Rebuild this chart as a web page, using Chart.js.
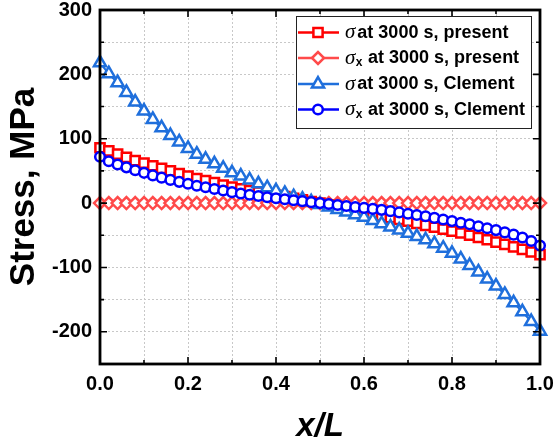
<!DOCTYPE html>
<html>
<head>
<meta charset="utf-8">
<script src="https://cdn.jsdelivr.net/npm/chart.js@4.4.1/dist/chart.umd.min.js"></script>
<style>
  html, body { margin: 0; padding: 0; background: #ffffff; }
  #wrap { width: 553px; height: 443px; position: relative; }
</style>
</head>
<body>
<div id="wrap"><canvas id="c" width="553" height="443"></canvas></div>
<script>
// x/L positions (categories)
const xPositions = [0.00,0.02,0.04,0.06,0.08,0.10,0.12,0.14,0.16,0.18,0.20,0.22,0.24,0.26,0.28,0.30,0.32,0.34,0.36,0.38,0.40,0.42,0.44,0.46,0.48,0.50,0.52,0.54,0.56,0.58,0.60,0.62,0.64,0.66,0.68,0.70,0.72,0.74,0.76,0.78,0.80,0.82,0.84,0.86,0.88,0.90,0.92,0.94,0.96,0.98,1.00];

// sigma at 3000 s, present (red squares)
const sigmaPresent = [86,81,76,71,66,62,58,54,50,46,42,38,35,32,28,25,22,19.5,17,14.5,12,10,7.5,5,2.5,0,-3,-5.8,-8.6,-11.4,-14.2,-17,-19.8,-22.6,-25.4,-28.2,-31.5,-34.5,-37.5,-40.5,-43.5,-46.5,-50,-53.5,-57,-60.5,-64,-68,-72,-76,-80];

// sigma_x at 3000 s, present (light red diamonds)
const sigmaXPresent = [0,0,0,0,0,0,0,0,0,0,0,0,0,0,0,0,0,0,0,0,0,0,0,0,0,0,0,0,0,0,0,0,0,0,0,0,0,0,0,0,0,0,0,0,0,0,0,0,0,0,0];

// sigma at 3000 s, Clement (blue triangles)
const sigmaClement = [218,201,187,172,157,143,130,117,105,95,85,76,68,61,54,47,42,36,30,24,19,15,10,6,2,-2,-6,-10,-14,-18,-22,-27,-32,-37,-42,-47,-52,-57,-63,-70,-78,-87,-97,-107,-118,-129,-142,-155,-169,-184,-199];

// sigma_x at 3000 s, Clement (blue circles)
const sigmaXClement = [72,65,60,55.5,51,47,43,39.5,36,33,30,27,24.5,22,19.5,17,15,13,11,9,7.5,6,4.5,3,1.5,0,-1.5,-3,-4.5,-6,-7.5,-9,-10.5,-12.5,-14.5,-16.5,-18.5,-20.5,-23,-25.5,-28,-30.5,-33,-36,-39,-42,-45.5,-49,-53.5,-59,-66];

// tick labels
const xTickLabels = ['0.0','0.2','0.4','0.6','0.8','1.0'];
const yTickLabels = ['-200','-100','0','100','200','300'];

const legendNames = ['at 3000 s, present','at 3000 s, present','at 3000 s, Clement','at 3000 s, Clement'];

const pts = arr => xPositions.map((x, i) => ({x: x, y: arr[i]}));

const series = [
  {data: sigmaPresent,  color: '#ff0000', style: 'rect',     radius: 6.5, sub: false, order: 2},
  {data: sigmaXPresent, color: '#ff4a4a', style: 'rectRot',  radius: 6,   sub: true,  order: 3},
  {data: sigmaClement,  color: '#1f6fdc', style: 'triangle', radius: 7,   sub: false, order: 1},
  {data: sigmaXClement, color: '#0000ff', style: 'circle',   radius: 4.8, sub: true,  order: 0}
];

const frameBox = {
  id: 'frameBox',
  afterDatasetsDraw(chart) {
    const {ctx, chartArea: a, scales: {x, y}} = chart;
    ctx.save();
    ctx.strokeStyle = '#000';
    ctx.lineWidth = 1.6;
    ctx.lineCap = 'butt';
    for (let k = 0; k <= 10; k++) {
      const px = x.getPixelForValue(k / 10);
      const len = (k % 2 === 0) ? 7 : 4;
      ctx.beginPath();
      ctx.moveTo(px, a.bottom); ctx.lineTo(px, a.bottom - len);
      ctx.moveTo(px, a.top); ctx.lineTo(px, a.top + len);
      ctx.stroke();
    }
    for (let v = -250; v <= 300; v += 50) {
      const py = y.getPixelForValue(v);
      const len = (v % 100 === 0) ? 7 : 4;
      ctx.beginPath();
      ctx.moveTo(a.left, py); ctx.lineTo(a.left + len, py);
      ctx.moveTo(a.right, py); ctx.lineTo(a.right - len, py);
      ctx.stroke();
    }
    ctx.lineWidth = 2.8;
    ctx.strokeRect(a.left, a.top, a.right - a.left, a.bottom - a.top);
    ctx.restore();
  },
  afterDraw(chart) {
    const ctx = chart.ctx;
    ctx.save();
    const bx = 296, by = 16, bw = 235, bh = 112;
    ctx.fillStyle = '#fff';
    ctx.fillRect(bx, by, bw, bh);
    ctx.strokeStyle = '#222';
    ctx.lineWidth = 1;
    ctx.strokeRect(bx + 0.5, by + 0.5, bw, bh);
    const rows = [32.5, 58, 84, 109.5];
    series.forEach((s, i) => {
      const cy = rows[i];
      ctx.strokeStyle = s.color;
      ctx.lineWidth = 2.5;
      ctx.beginPath();
      ctx.moveTo(298, cy); ctx.lineTo(339, cy);
      ctx.stroke();
      ctx.fillStyle = '#fff';
      ctx.strokeStyle = s.color;
      ctx.lineWidth = 2.5;
      Chart.helpers.drawPoint(ctx, {pointStyle: s.style, radius: s.radius, rotation: 0, borderWidth: 2.5}, 318, cy);
      ctx.fillStyle = '#000';
      ctx.textBaseline = 'middle';
      ctx.textAlign = 'left';
      let tx = 345;
      ctx.font = 'italic 21px "Liberation Serif", "DejaVu Serif", serif';
      ctx.fillText('σ', tx, cy);
      tx += ctx.measureText('σ').width;
      if (s.sub) {
        ctx.font = 'bold 12px "Liberation Sans", Arial, sans-serif';
        ctx.fillText('x', tx + 0.5, cy + 5);
        tx += ctx.measureText('x').width + 1;
        ctx.font = 'bold 18px "Liberation Sans", Arial, sans-serif';
        tx += ctx.measureText(' ').width;
      } else {
        tx += 2;
      }
      ctx.font = 'bold 18px "Liberation Sans", Arial, sans-serif';
      ctx.fillText(legendNames[i], tx, cy + 0.5);
    });
    ctx.restore();
  }
};

new Chart(document.getElementById('c'), {
  type: 'line',
  data: {
    datasets: series.map((s, i) => ({
      label: (s.sub ? 'σx ' : 'σ ') + legendNames[i],
      data: pts(s.data),
      borderColor: s.color,
      backgroundColor: '#ffffff',
      borderWidth: 2,
      pointStyle: s.style,
      pointRadius: s.radius,
      pointBorderWidth: 2.5,
      pointBackgroundColor: '#ffffff',
      pointBorderColor: s.color,
      tension: 0,
      order: s.order,
      clip: false
    }))
  },
  options: {
    responsive: false,
    animation: false,
    events: [],
    layout: {padding: {left: 0, right: 13, top: 10, bottom: 0}},
    plugins: {legend: {display: false}, tooltip: {enabled: false}},
    scales: {
      x: {
        type: 'linear', min: 0, max: 1,
        afterFit: sc => { sc.height = 79; sc.paddingLeft = 0; sc.paddingRight = 0; },
        grid: {color: '#c8c8c8', lineWidth: 1, drawTicks: false},
        border: {display: false, dash: [2, 2]},
        ticks: {
          stepSize: 0.1, autoSkip: false, maxRotation: 0, padding: 8,
          color: '#000',
          font: {family: '"Liberation Sans", Arial, sans-serif', size: 20, weight: 'bold'},
          callback: v => {
            const k = Math.round(v * 10);
            return (k % 2 === 0) ? xTickLabels[k / 2] : '';
          }
        },
        title: {
          display: true, text: 'x/L', color: '#000',
          font: {family: '"Liberation Sans", Arial, sans-serif', size: 33, weight: 'bold', style: 'italic', lineHeight: 1},
          padding: {top: 0, bottom: 0}
        }
      },
      y: {
        type: 'linear', min: -250, max: 300,
        afterFit: sc => { sc.width = 100; sc.paddingTop = 0; sc.paddingBottom = 0; },
        grid: {color: '#c8c8c8', lineWidth: 1, drawTicks: false},
        border: {display: false, dash: [2, 2]},
        ticks: {
          stepSize: 50, autoSkip: false, padding: 8,
          color: '#000',
          font: {family: '"Liberation Sans", Arial, sans-serif', size: 20, weight: 'bold'},
          callback: v => {
            if (v % 100 !== 0) return '';
            return yTickLabels[(v + 200) / 100];
          }
        },
        title: {
          display: true, text: 'Stress, MPa', color: '#000',
          font: {family: '"Liberation Sans", Arial, sans-serif', size: 35, weight: 'bold', lineHeight: 1},
          padding: {top: 7, bottom: 0}
        }
      }
    }
  },
  plugins: [frameBox]
});
</script>
</body>
</html>
